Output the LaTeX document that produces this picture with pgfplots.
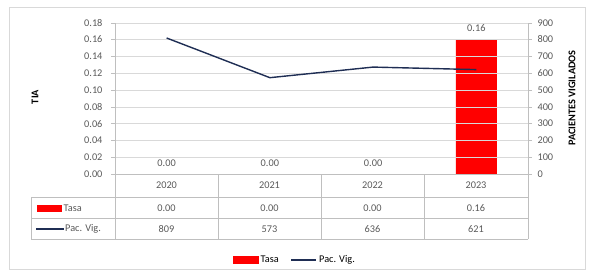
\documentclass[border=0pt]{standalone}
\usepackage{fontspec}
\setmainfont{Carlito}
\usepackage{pgfplots}
\pgfplotsset{compat=1.18}
\definecolor{barred}{RGB}{255,0,0}
\definecolor{navy}{RGB}{31,46,84}
\definecolor{tickc}{RGB}{89,89,89}
\definecolor{gridc}{RGB}{217,217,217}
\definecolor{tblc}{RGB}{191,191,191}
\newcommand{\fs}{\fontsize{10.3}{12}\selectfont}
\begin{document}
\begin{tikzpicture}[x=1pt,y=1pt]
\path[use as bounding box] (0,0) rectangle (593,276);
\draw[gridc] (9.5,6.5) rectangle (585.5,268.5);
\begin{axis}[
  at={(115pt,102pt)}, anchor=south west,
  scale only axis, width=413pt, height=151.3pt,
  xmin=-0.5, xmax=3.5, ymin=0, ymax=0.18,
  ytick={0,0.02,0.04,0.06,0.08,0.10,0.12,0.14,0.16,0.18},
  xtick=\empty,
  axis x line*=bottom, axis y line*=left,
  axis line style={tblc},
  tick style={tblc},
  axis on top,
  major tick length=4pt, tick align=outside,
  ymajorgrids, grid style={gridc},
  yticklabel style={font=\fs, text=tickc, xshift=-5pt},
  /pgf/number format/assume math mode=true,
  yticklabel={\pgfmathprintnumber[fixed,fixed zerofill,precision=2]{\tick}},
  nodes near coords={\pgfmathprintnumber[fixed,fixed zerofill,precision=2,assume math mode=true]{\pgfplotspointmeta}},
  every node near coord/.append style={font=\fs, text=tickc, yshift=4pt},
  clip=false,
]
\addplot[ybar, bar width=41pt, fill=barred, draw=none] coordinates {(0,0) (1,0) (2,0) (3,0.16)};
\end{axis}
\begin{axis}[
  at={(115pt,102pt)}, anchor=south west,
  scale only axis, width=413pt, height=151.3pt,
  xmin=-0.5, xmax=3.5, ymin=0, ymax=900,
  ytick={0,100,...,900},
  axis x line=none, axis y line*=right,
  axis line style={tblc},
  tick style={tblc},
  major tick length=4pt, tick align=outside,
  yticklabel style={font=\fs, text=tickc, xshift=2pt},
  /pgf/number format/assume math mode=true,
  legend style={at={(0.436,-0.568)}, anchor=center, draw=none, fill=none,
    font=\fs, legend columns=2,
    /tikz/every even column/.append style={column sep=10pt}},
]
\addlegendimage{legend image code/.code={\fill[barred] (0pt,-3.5pt) rectangle (25pt,3.5pt);}}
\addlegendentry{Tasa}
\addplot[navy, line width=1.4pt, legend image code/.code={\draw[navy,line width=1.4pt] (0pt,0pt)--(25pt,0pt);}] coordinates {(0,809) (1,573) (2,636) (3,621)};
\addlegendentry{Pac. Vig.}
\end{axis}
% data table grid
\draw[tblc] (31,79) -- (528,79);
\draw[tblc] (31,58) -- (528,58);
\draw[tblc] (31,37) -- (528,37);
\draw[tblc] (31,79) -- (31,37);
\foreach \xx in {115,218,321,424,528} {\draw[tblc] (\xx,102) -- (\xx,37);}
% year labels
\foreach \xx/\yy in {166.5/2020,269.5/2021,372.5/2022,476/2023} {\node[font=\fs,text=tickc] at (\xx,91) {\yy};}
\foreach \xx/\vv in {166.5/0.00,269.5/0.00,372.5/0.00,476/0.16} {\node[font=\fs,text=tickc] at (\xx,68) {\vv};}
\foreach \xx/\vv in {166.5/809,269.5/573,372.5/636,476/621} {\node[font=\fs,text=tickc] at (\xx,47) {\vv};}
% row headers
\fill[barred] (37,64.5) rectangle (62,71.5);
\node[font=\fs,text=tickc,anchor=west,inner sep=0pt] at (63.5,68) {Tasa};
\draw[navy,line width=1.4pt] (36,47) -- (64,47);
\node[font=\fs,text=tickc,anchor=west,inner sep=0pt] at (65,47) {Pac. Vig.};
% axis titles
\node[font=\fs\bfseries,rotate=90] at (35,179) {TIA};
\node[font=\fs\bfseries,rotate=90] at (572,178) {PACIENTES VIGILADOS};
\end{tikzpicture}
\end{document}
